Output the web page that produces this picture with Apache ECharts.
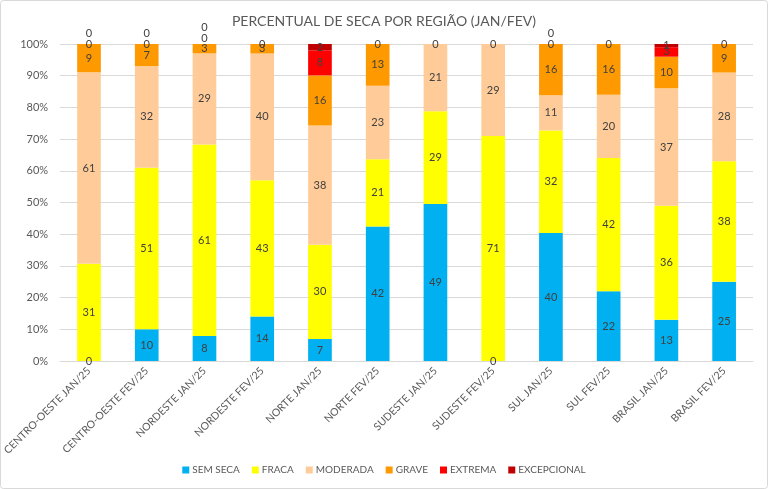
<!DOCTYPE html>
<html>
<head>
<meta charset="utf-8">
<script src="https://cdn.jsdelivr.net/npm/echarts@6/dist/echarts.min.js"></script>
<style>
html,body{margin:0;padding:0;background:#fff;}
#chart{width:768px;height:489px;}
</style>
</head>
<body>
<div id="chart"></div>
<script>
const categories = ['CENTRO-OESTE JAN/25','CENTRO-OESTE FEV/25','NORDESTE JAN/25','NORDESTE FEV/25','NORTE JAN/25','NORTE FEV/25','SUDESTE JAN/25','SUDESTE FEV/25','SUL JAN/25','SUL FEV/25','BRASIL JAN/25','BRASIL FEV/25'];
const semSeca     = [0, 10, 8, 14, 7, 42, 49, 0, 40, 22, 13, 25];
const fraca       = [31, 51, 61, 43, 30, 21, 29, 71, 32, 42, 36, 38];
const moderada    = [61, 32, 29, 40, 38, 23, 21, 29, 11, 20, 37, 28];
const grave       = [9, 7, 3, 3, 16, 13, 0, 0, 16, 16, 10, 9];
const extrema     = [0, 0, 0, 0, 8, 0, null, null, 0, 0, 3, 0];
const excepcional = [0, 0, 0, null, 2, null, null, null, 0, null, 1, null];
const yTicks = [0,10,20,30,40,50,60,70,80,90,100];

const seriesDefs = [
  {name:'SEM SECA', data:semSeca, color:'#00B0F0'},
  {name:'FRACA', data:fraca, color:'#FFFF00'},
  {name:'MODERADA', data:moderada, color:'#FFCC99'},
  {name:'GRAVE', data:grave, color:'#FF9900'},
  {name:'EXTREMA', data:extrema, color:'#FF0000'},
  {name:'EXCEPCIONAL', data:excepcional, color:'#C00000'}
];
// label nudges for overlapping zero labels (style only)
const labelNudge = {
  'EXTREMA': {2:-6},
  'EXCEPCIONAL': {0:-11, 1:-11, 2:-17, 8:-11}
};
const totals = categories.map((c,i)=>seriesDefs.reduce((s,d)=>s+(d.data[i]||0),0));
const FONT = 'Lato, "Liberation Sans", sans-serif';

const series = seriesDefs.map(d=>({
  name:d.name,
  type:'bar',
  stack:'total',
  barWidth:'41%',
  itemStyle:{color:d.color},
  emphasis:{disabled:true},
  data:d.data.map((v,i)=>{
    if(v===null) return null;
    const item = {value: v/totals[i]*100, raw: v};
    const n = labelNudge[d.name] && labelNudge[d.name][i];
    if(n) item.label = {offset:[0,n]};
    return item;
  }),
  label:{
    show:true,
    position:'inside',
    color:'#404040',
    fontSize:11,
    fontFamily:FONT,
    formatter:p=>String(p.data.raw)
  }
}));

const chart = echarts.init(document.getElementById('chart'));
chart.setOption({
  animation:false,
  backgroundColor:'#fff',
  title:{
    text:'PERCENTUAL DE SECA POR REGIÃO (JAN/FEV)',
    left:'center', top:9,
    textStyle:{color:'#595959', fontSize:14, fontWeight:'normal', fontFamily:FONT}
  },
  graphic:[{type:'rect', shape:{x:0.5,y:0.5,width:767,height:488,r:3}, style:{fill:'none', stroke:'#D9D9D9', lineWidth:1}, silent:true}],
  legend:{
    bottom:9, left:'center',
    icon:'rect', itemWidth:7, itemHeight:7, itemGap:12,
    textStyle:{color:'#595959', fontSize:10, fontFamily:FONT, padding:[0,0,0,-2]},
    data:seriesDefs.map(d=>d.name)
  },
  grid:{left:56, right:15, top:44, bottom:128},
  xAxis:{
    type:'category',
    data:categories,
    axisLine:{lineStyle:{color:'#D9D9D9'}},
    axisTick:{show:false},
    axisLabel:{rotate:45, interval:0, color:'#595959', fontSize:10.5, fontFamily:FONT, margin:8}
  },
  yAxis:{
    type:'value',
    min:0, max:100, interval:10,
    axisLine:{show:false},
    axisTick:{show:false},
    splitLine:{lineStyle:{color:'#D9D9D9'}},
    axisLabel:{color:'#595959', fontSize:11, fontFamily:FONT, margin:12,
      formatter:v=> yTicks.includes(v) ? v+'%' : ''}
  },
  series:series
});
</script>
</body>
</html>
